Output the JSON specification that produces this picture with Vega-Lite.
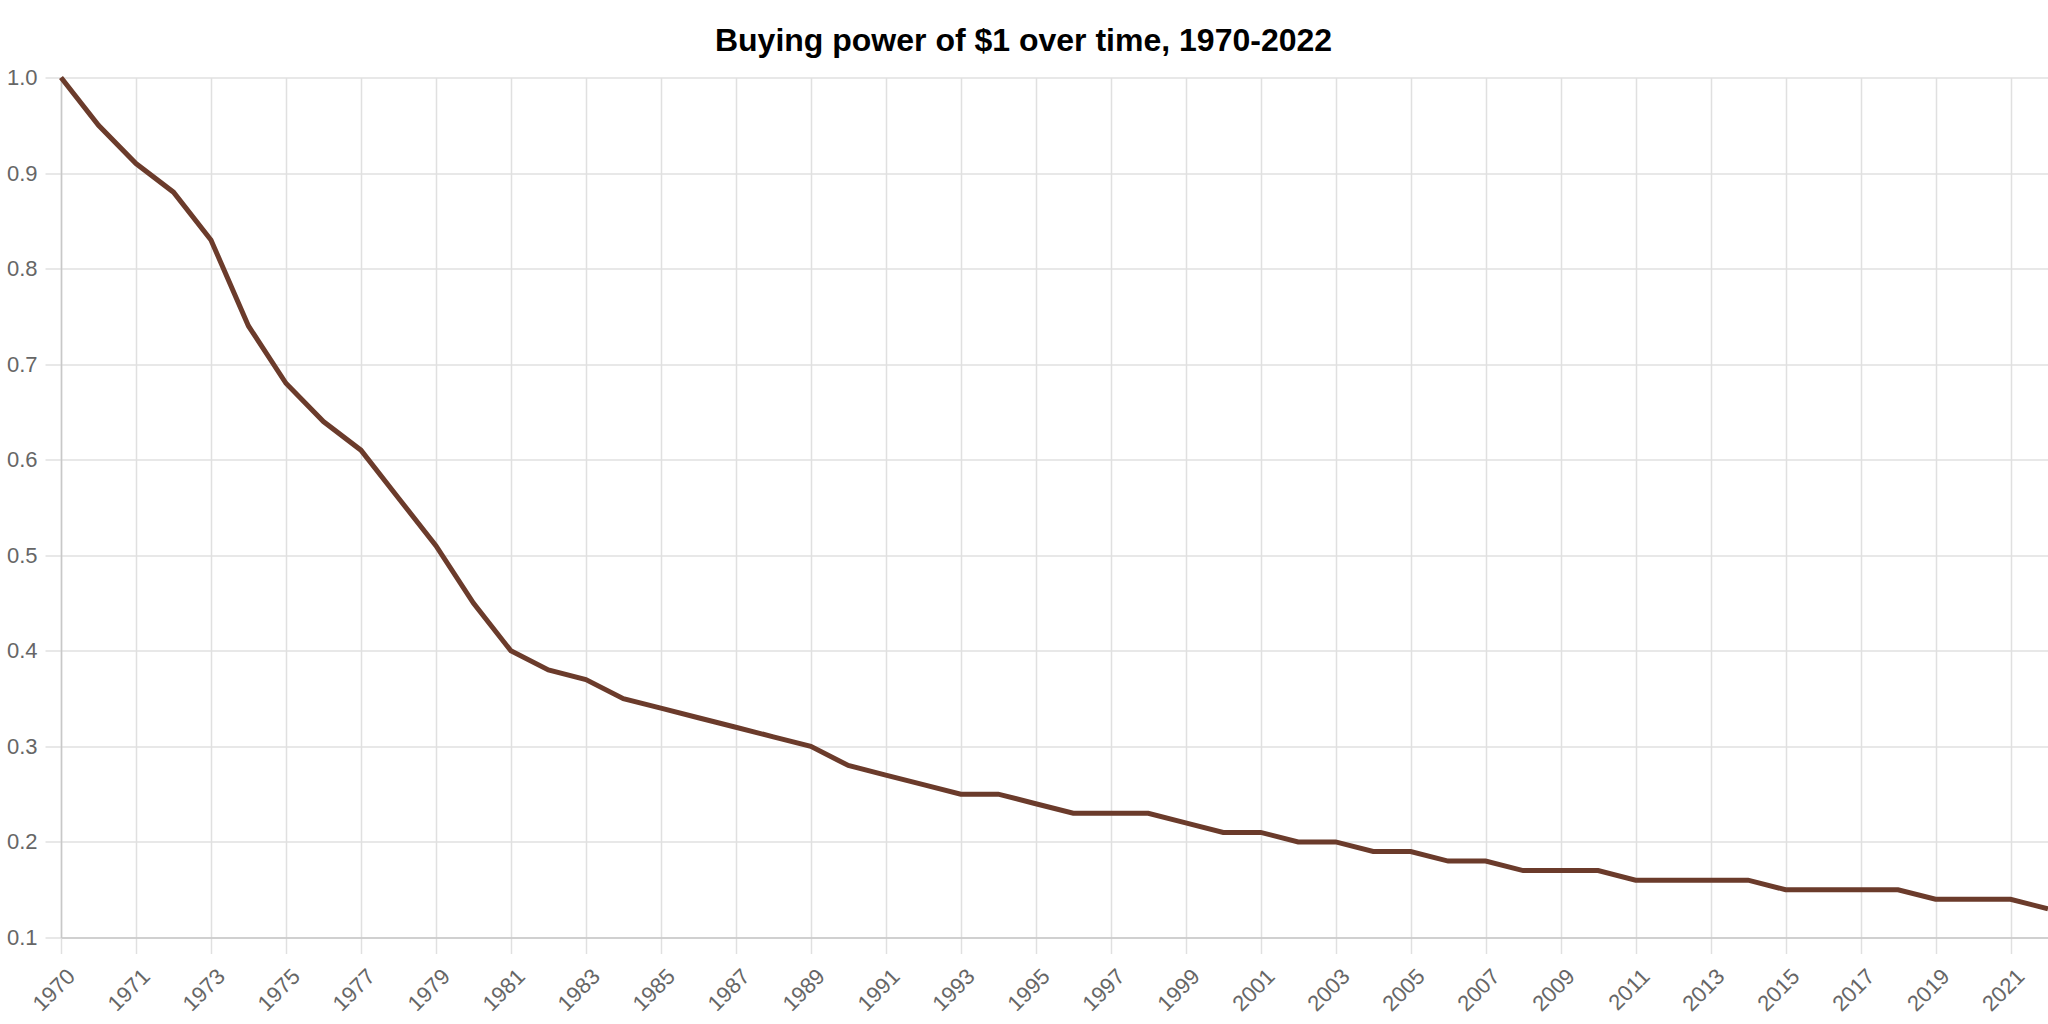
{
  "$schema": "https://vega.github.io/schema/vega-lite/v6.json",
  "width": 1987,
  "height": 860,
  "autosize": {"type": "none"},
  "padding": {"left": 61, "top": 77.5, "right": 0, "bottom": 86.5},
  "background": "white",
  "title": {
    "text": "Buying power of $1 over time, 1970-2022",
    "font": "Liberation Sans",
    "fontSize": 32,
    "fontWeight": "bold",
    "color": "#000000",
    "anchor": "middle",
    "frame": "group",
    "dx": -31,
    "offset": 9
  },
  "config": {
    "view": {"stroke": null},
    "axis": {
      "labelFont": "Liberation Sans",
      "labelFontSize": 22,
      "labelColor": "#666666",
      "gridColor": "#e0e0e0",
      "gridWidth": 1.5,
      "tickColor": "#e0e0e0",
      "tickWidth": 1.5,
      "tickSize": 16,
      "domainColor": "#c8c8c8",
      "domainWidth": 1.5,
      "title": null
    }
  },
  "data": {
    "values": [
      {"period": "1970 (start)", "value": 1.0},
      {"period": "1970", "value": 0.95},
      {"period": "1971", "value": 0.91},
      {"period": "1972", "value": 0.88},
      {"period": "1973", "value": 0.83},
      {"period": "1974", "value": 0.74},
      {"period": "1975", "value": 0.68},
      {"period": "1976", "value": 0.64},
      {"period": "1977", "value": 0.61},
      {"period": "1978", "value": 0.56},
      {"period": "1979", "value": 0.51},
      {"period": "1980", "value": 0.45},
      {"period": "1981", "value": 0.40},
      {"period": "1982", "value": 0.38},
      {"period": "1983", "value": 0.37},
      {"period": "1984", "value": 0.35},
      {"period": "1985", "value": 0.34},
      {"period": "1986", "value": 0.33},
      {"period": "1987", "value": 0.32},
      {"period": "1988", "value": 0.31},
      {"period": "1989", "value": 0.30},
      {"period": "1990", "value": 0.28},
      {"period": "1991", "value": 0.27},
      {"period": "1992", "value": 0.26},
      {"period": "1993", "value": 0.25},
      {"period": "1994", "value": 0.25},
      {"period": "1995", "value": 0.24},
      {"period": "1996", "value": 0.23},
      {"period": "1997", "value": 0.23},
      {"period": "1998", "value": 0.23},
      {"period": "1999", "value": 0.22},
      {"period": "2000", "value": 0.21},
      {"period": "2001", "value": 0.21},
      {"period": "2002", "value": 0.20},
      {"period": "2003", "value": 0.20},
      {"period": "2004", "value": 0.19},
      {"period": "2005", "value": 0.19},
      {"period": "2006", "value": 0.18},
      {"period": "2007", "value": 0.18},
      {"period": "2008", "value": 0.17},
      {"period": "2009", "value": 0.17},
      {"period": "2010", "value": 0.17},
      {"period": "2011", "value": 0.16},
      {"period": "2012", "value": 0.16},
      {"period": "2013", "value": 0.16},
      {"period": "2014", "value": 0.16},
      {"period": "2015", "value": 0.15},
      {"period": "2016", "value": 0.15},
      {"period": "2017", "value": 0.15},
      {"period": "2018", "value": 0.15},
      {"period": "2019", "value": 0.14},
      {"period": "2020", "value": 0.14},
      {"period": "2021", "value": 0.14},
      {"period": "2022", "value": 0.13}
    ]
  },
  "mark": {"type": "line", "color": "#6b3b2b", "strokeWidth": 5, "strokeJoin": "miter", "clip": false},
  "encoding": {
    "x": {
      "field": "period",
      "type": "ordinal",
      "sort": null,
      "scale": {"type": "point", "padding": 0},
      "axis": {
        "values": ["1970 (start)", "1971", "1973", "1975", "1977", "1979", "1981", "1983", "1985", "1987", "1989", "1991", "1993", "1995", "1997", "1999", "2001", "2003", "2005", "2007", "2009", "2011", "2013", "2015", "2017", "2019", "2021"],
        "labelExpr": "slice(datum.label, 0, 4)",
        "labelAngle": -45,
        "labelAlign": "right",
        "labelBaseline": "middle",
        "labelPadding": 19,
        "labelOffset": 10,
        "grid": true
      }
    },
    "y": {
      "field": "value",
      "type": "quantitative",
      "scale": {"domain": [0.1, 1.0], "nice": false, "zero": false},
      "axis": {
        "values": [0.1, 0.2, 0.3, 0.4, 0.5, 0.6, 0.7, 0.8, 0.9, 1.0],
        "format": ".1f",
        "labelPadding": 8
      }
    }
  }
}
